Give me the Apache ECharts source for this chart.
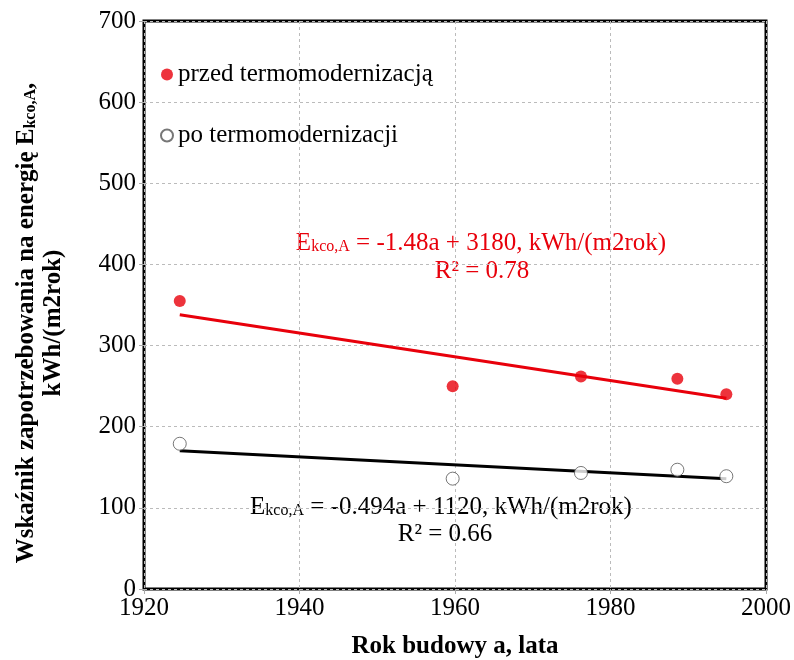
<!DOCTYPE html>
<html>
<head>
<meta charset="utf-8">
<script src="https://cdn.jsdelivr.net/npm/echarts@6/dist/echarts.min.js"></script>
<style>
	html, body { margin: 0; padding: 0; background: #fff; }
	#chart { width: 794px; height: 660px; }
</style>
</head>
<body>
<div id="chart"></div>
<script>
// rok budowy
var years = [1924.6, 1959.7, 1976.2, 1988.6, 1994.9];
// przed termomodernizacją
var before = [355, 250, 262, 259, 240];
// po termomodernizacji
var after = [179, 136, 143, 147, 139];
var xTicks = [1920, 1940, 1960, 1980, 2000];
var yTicks = [0, 100, 200, 300, 400, 500, 600, 700];

// prosta regresji liniowej (metoda najmniejszych kwadratów)
function fitLine(xs, ys) {
	var n = xs.length, mx = 0, my = 0, sxy = 0, sxx = 0;
	for (var i = 0; i < n; i++) { mx += xs[i]; my += ys[i]; }
	mx /= n; my /= n;
	for (var j = 0; j < n; j++) {
		sxy += (xs[j] - mx) * (ys[j] - my);
		sxx += (xs[j] - mx) * (xs[j] - mx);
	}
	var b = sxy / sxx, a = my - b * mx;
	var x0 = xs[0], x1 = xs[n - 1];
	return [[x0, a + b * x0], [x1, a + b * x1]];
}
function pairs(xs, ys) {
	return xs.map(function(x, i) { return [x, ys[i]]; });
}

var serif = "'Liberation Serif', 'Times New Roman', serif";
var myChart = echarts.init(document.getElementById('chart'));
var option = {
	animation: false,
	textStyle: { fontFamily: serif },
	grid: {
		left: 144,
		right: 28,
		top: 21,
		bottom: 71,
		containLabel: false,
		outerBoundsMode: 'none',
		show: true,
		borderColor: '#000',
		borderWidth: 3
	},
	legend: {
		data: ['przed termomodernizacją', 'po termomodernizacji'],
		orient: 'vertical',
		left: 155,
		top: 57,
		itemGap: 36,
		itemWidth: 12,
		itemHeight: 12,
		textStyle: { fontFamily: serif, fontSize: 25, color: '#000' }
	},
	xAxis: {
		type: 'value',
		min: xTicks[0],
		max: xTicks[xTicks.length - 1],
		interval: 20,
		name: 'Rok budowy a, lata',
		nameLocation: 'middle',
		nameGap: 45,
		nameTextStyle: { fontFamily: serif, fontSize: 25, fontWeight: 'bold', color: '#000' },
		axisLine: { show: false },
		axisTick: { show: true, length: 5, lineStyle: { color: '#aaa' } },
		axisLabel: {
			fontFamily: serif, fontSize: 25, color: '#000', margin: 7,
			formatter: function(v) { return String(v); }
		},
		splitLine: { show: true, lineStyle: { color: '#bbb', type: [3, 3], width: 1 } }
	},
	yAxis: {
		type: 'value',
		min: yTicks[0],
		max: yTicks[yTicks.length - 1],
		interval: 100,
		axisLine: { show: false },
		axisTick: { show: true, length: 5, lineStyle: { color: '#aaa' } },
		axisLabel: { fontFamily: serif, fontSize: 25, color: '#000', margin: 8 },
		splitLine: { show: true, lineStyle: { color: '#bbb', type: [3, 3], width: 1 } }
	},
	series: [{
			name: 'przed termomodernizacją',
			type: 'scatter',
			symbol: 'circle',
			symbolSize: 12,
			itemStyle: { color: '#e8000b' },
			data: pairs(years, before),
			z: 5
		},
		{
			name: 'po termomodernizacji',
			type: 'scatter',
			symbol: 'circle',
			symbolSize: 13,
			itemStyle: { color: '#fff', borderColor: '#555', borderWidth: 1 },
			data: pairs(years, after),
			z: 5
		},
		// linie trendu
		{
			name: 'trend przed',
			type: 'line',
			showSymbol: false,
			lineStyle: { color: '#e8000b', width: 3 },
			data: fitLine(years, before),
			z: 3
		},
		{
			name: 'trend po',
			type: 'line',
			showSymbol: false,
			lineStyle: { color: '#000', width: 3 },
			data: fitLine(years, after),
			z: 3
		}
	],
	graphic: [
		// tytuł osi Y
		{
			type: 'text',
			x: 27,
			y: 323,
			rotation: Math.PI / 2,
			style: {
				text: 'Wskaźnik zapotrzebowania na energię E{s|kco,A},',
				font: 'bold 25px ' + serif,
				fill: '#000',
				align: 'center',
				verticalAlign: 'middle',
				rich: { s: { fontFamily: serif, fontWeight: 'bold', fontSize: 16, padding: [7, 0, 0, 0] } }
			}
		},
		{
			type: 'text',
			x: 54,
			y: 323,
			rotation: Math.PI / 2,
			style: {
				text: 'kWh/(m2rok)',
				font: 'bold 25px ' + serif,
				fill: '#000',
				align: 'center',
				verticalAlign: 'middle'
			}
		},
		// równanie - przed
		{
			type: 'text',
			x: 481,
			y: 243,
			style: {
				text: 'E{s|kco,A} = -1.48a + 3180, kWh/(m2rok)',
				font: '25px ' + serif,
				fill: '#e8000b',
				align: 'center',
				verticalAlign: 'middle',
				rich: { s: { fontFamily: serif, fontSize: 16, fill: '#e8000b', padding: [7, 0, 0, 0] } }
			}
		},
		{
			type: 'text',
			x: 482,
			y: 271,
			style: {
				text: 'R² = 0.78',
				font: '25px ' + serif,
				fill: '#e8000b',
				align: 'center',
				verticalAlign: 'middle'
			}
		},
		// równanie - po
		{
			type: 'text',
			x: 441,
			y: 507,
			style: {
				text: 'E{s|kco,A} = -0.494a + 1120, kWh/(m2rok)',
				font: '25px ' + serif,
				fill: '#000',
				align: 'center',
				verticalAlign: 'middle',
				rich: { s: { fontFamily: serif, fontSize: 16, fill: '#000', padding: [7, 0, 0, 0] } }
			}
		},
		{
			type: 'text',
			x: 445,
			y: 534,
			style: {
				text: 'R² = 0.66',
				font: '25px ' + serif,
				fill: '#000',
				align: 'center',
				verticalAlign: 'middle'
			}
		}
	]
};
myChart.setOption(option);
window.addEventListener('resize', function() {
	myChart.resize();
});
</script>
</body>
</html>
